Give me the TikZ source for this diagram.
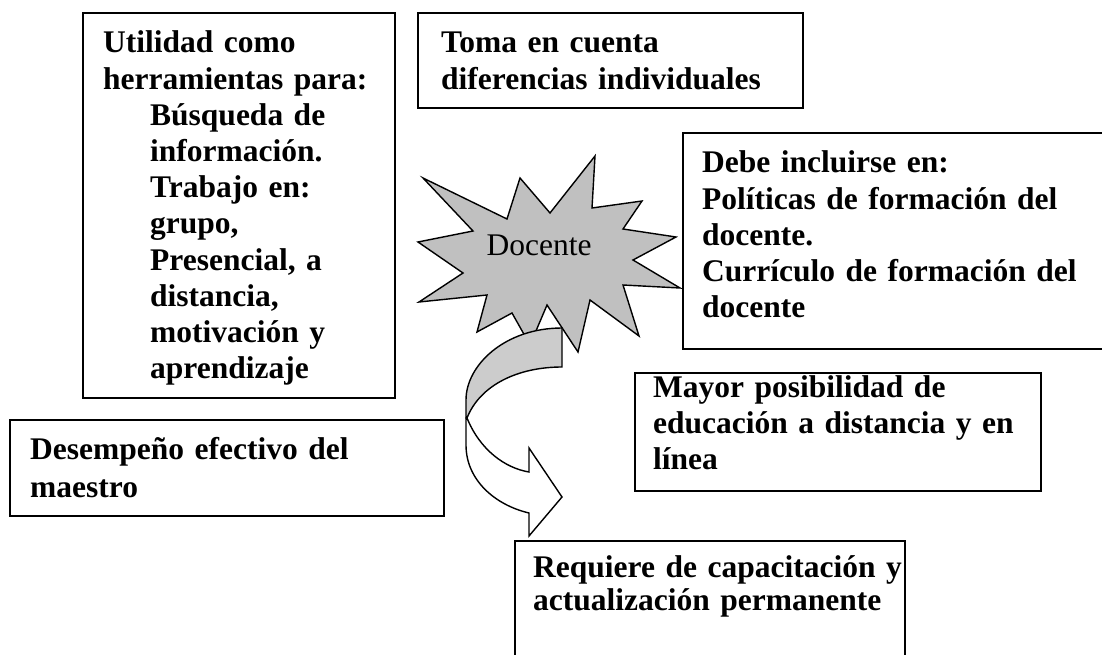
\documentclass[tikz,border=0pt]{standalone}
\usepackage{fontspec}
\setmainfont{Liberation Serif}
\definecolor{stargray}{RGB}{192,192,192}
\definecolor{arrowgray}{RGB}{204,204,204}
\begin{document}
\begin{tikzpicture}[x=1pt,y=-1pt,
  box/.style={draw=black, line width=1.6pt, fill=white, anchor=north west, inner sep=0pt},
  txt/.style={font=\bfseries\fontsize{31.5}{36.2}\selectfont, anchor=base west, inner sep=0pt, text width=420pt, align=left},
  starshape/.style={draw=black, line width=1.4pt, fill=stargray, line join=miter},
  arrowpart/.style={draw=black, line width=1.4pt, line join=miter}]
\clip (0,0) rectangle (1102,655);
\fill[white] (0,0) rectangle (1102,655);

% star
\draw[starshape] (423,178) -- (507,219) -- (520,178) -- (550,213) -- (595,156) -- (592,208)
  -- (642,201) -- (623,229) -- (676,237) -- (633,260) -- (680,288) -- (623,285)
  -- (639,336) -- (590,300) -- (578,352) -- (547,305) -- (530,345) -- (512,313)
  -- (477,332) -- (487,295) -- (419,302) -- (463,273) -- (418,242) -- (473,231) -- cycle;
\node[font=\fontsize{31.5}{36}\selectfont, inner sep=0pt] (docente) at (539,245) {Docente};

% curved arrow: front (white) part
\draw[arrowpart, fill=white] (467,418) .. controls (480,450) and (505,468) .. (529,472)
  -- (529,448) -- (562,497) -- (529,536) -- (529,513)
  .. controls (495,505) and (466,480) .. (466,445) -- (466,418) -- cycle;
% curved arrow: back (gray) part
\draw[arrowpart, fill=arrowgray] (562,328) .. controls (505,328) and (466,365) .. (466,400)
  -- (466,418) -- (467,418) .. controls (480,385) and (518,367) .. (562,367) -- cycle;

% boxes
\node[box, minimum width=312pt, minimum height=385pt] (utilbox) at (82,12) {};
\node[box, minimum width=385pt, minimum height=95pt] (tomabox) at (417,12) {};
\node[box, minimum width=440pt, minimum height=216pt] (debebox) at (682,132) {};
\node[box, minimum width=406pt, minimum height=118pt] (mayorbox) at (634,372) {};
\node[box, minimum width=434pt, minimum height=96pt] (desebox) at (9,419) {};
\node[box, minimum width=390pt, minimum height=130pt] (reqbox) at (514,540) {};

% texts
\begin{scope}
\clip (82,12) rectangle (394,385);
\node[txt] (utiltxt) at (103,53) {Utilidad como\\herramientas para:\\
\hspace*{47pt}Búsqueda de\\\hspace*{47pt}información.\\\hspace*{47pt}Trabajo en:\\
\hspace*{47pt}grupo,\\\hspace*{47pt}Presencial, a\\\hspace*{47pt}distancia,\\
\hspace*{47pt}motivación y\\\hspace*{47pt}aprendizaje};
\end{scope}
\node[txt] (tomatxt) at (441,53) {Toma en cuenta\\diferencias individuales};
\node[txt] (debetxt) at (702,173) {Debe incluirse en:\\Políticas de formación del\\docente.\\Currículo de formación del\\docente};
\begin{scope}
\clip (634,372) rectangle (1040,477);
\node[txt] (mayortxt) at (653,397) {Mayor posibilidad de\\educación a distancia y en\\línea};
\end{scope}
\node[txt, font=\bfseries\fontsize{31.5}{38}\selectfont] (desetxt) at (30,459) {Desempeño efectivo del\\maestro};
\node[txt, font=\bfseries\fontsize{31.5}{33}\selectfont] (reqtxt) at (533,577) {Requiere de capacitación y\\actualización permanente};
\end{tikzpicture}
\end{document}
